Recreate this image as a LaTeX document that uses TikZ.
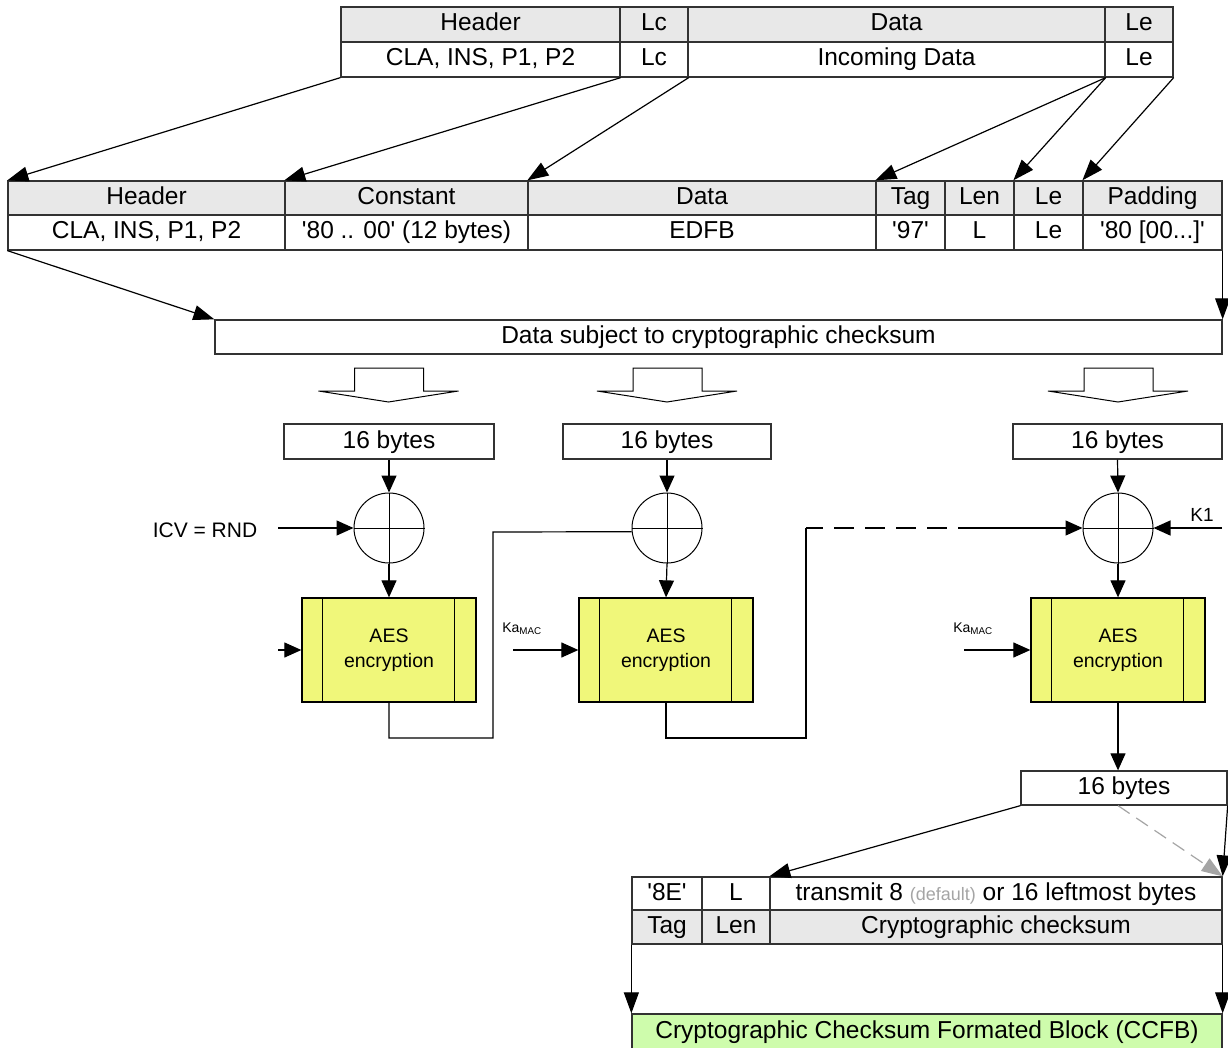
\documentclass[tikz,border=0pt]{standalone}
\usepackage{fontspec}
\setmainfont{Liberation Sans}
\newfontfamily\arial{Liberation Sans}
\usetikzlibrary{arrows.meta}
\definecolor{hdr}{RGB}{232,232,232}
\definecolor{aesy}{RGB}{240,247,122}
\definecolor{ccfbg}{RGB}{206,252,172}
\definecolor{bord}{RGB}{50,50,50}
\definecolor{lgray}{RGB}{165,165,165}
\newcommand\fbig{\arial\fontsize{24.5}{28}\selectfont}
\newcommand\mkcell[7]{\node[cellbox,fill=#6,minimum width={(#4-#2)*1pt},minimum height={(#5-#3)*1pt}] (#1) at ({(#2+#4)/2},{(#3+#5)/2}) {#7};}
\newcommand\blockarr[1]{\draw[line width=1pt,fill=white] ({#1-34},368) -- ({#1+35},368) -- ({#1+35},391) -- ({#1+70},391) -- (#1,402) -- ({#1-70},391) -- ({#1-34},391) -- cycle;}
\begin{document}
\begin{tikzpicture}[x=1pt,y=-1pt,
 cellbox/.style={draw=bord,line width=1.3pt,inner sep=0pt,font=\fbig,text height=13pt,text depth=0pt},
 conn/.style={line width=1.2pt,-{Triangle[length=21pt,width=15pt]}},
 sconn/.style={line width=1.2pt,-{Triangle[length=17pt,width=15pt]}},
 xorc/.style={circle,draw,line width=1pt,minimum size=70pt,inner sep=0pt},
 aesbox/.style={draw,line width=1.3pt,fill=aesy,minimum width=174pt,minimum height=104pt,align=center,font=\arial\fontsize{19.5}{25}\selectfont,inner sep=0pt},
 lbl/.style={inner sep=0pt,font=\arial}]
\useasboundingbox (0,0) rectangle (1228,1048);
\fill[white] (0,0) rectangle (1228,1048);

% top table
\mkcell{th1}{341}{7}{620}{42}{hdr}{Header}
\mkcell{th2}{620}{7}{688}{42}{hdr}{Lc}
\mkcell{th3}{688}{7}{1105}{42}{hdr}{Data}
\mkcell{th4}{1105}{7}{1173}{42}{hdr}{Le}
\mkcell{tr1}{341}{42}{620}{77}{white}{CLA, INS, P1, P2}
\mkcell{tr2}{620}{42}{688}{77}{white}{Lc}
\mkcell{tr3}{688}{42}{1105}{77}{white}{Incoming Data}
\mkcell{tr4}{1105}{42}{1173}{77}{white}{Le}

% second table
\mkcell{sh1}{8}{181}{285}{215}{hdr}{Header}
\mkcell{sh2}{285}{181}{528}{215}{hdr}{Constant}
\mkcell{sh3}{528}{181}{876}{215}{hdr}{Data}
\mkcell{sh4}{876}{181}{945}{215}{hdr}{Tag}
\mkcell{sh5}{945}{181}{1014}{215}{hdr}{Len}
\mkcell{sh6}{1014}{181}{1083}{215}{hdr}{Le}
\mkcell{sh7}{1083}{181}{1222}{215}{hdr}{Padding}
\mkcell{sr1}{8}{215}{285}{250}{white}{CLA, INS, P1, P2}
\mkcell{sr2}{285}{215}{528}{250}{white}{'80 .. 00' (12 bytes)}
\mkcell{sr3}{528}{215}{876}{250}{white}{EDFB}
\mkcell{sr4}{876}{215}{945}{250}{white}{'97'}
\mkcell{sr5}{945}{215}{1014}{250}{white}{L}
\mkcell{sr6}{1014}{215}{1083}{250}{white}{Le}
\mkcell{sr7}{1083}{215}{1222}{250}{white}{'80 [00...]'}

\draw[conn] (tr1.south west) -- (sh1.north west);
\draw[conn] (tr1.south east) -- (sh2.north west);
\draw[conn] (tr2.south east) -- (sh3.north west);
\draw[conn] (tr3.south east) -- (sh4.north west);
\draw[conn] (tr3.south east) -- (sh6.north west);
\draw[conn] (tr4.south east) -- (sh7.north west);

% data subject box
\mkcell{ds}{215}{320}{1222}{354}{white}{Data subject to cryptographic checksum}
\draw[conn] (sr1.south west) -- (ds.north west);
\draw[conn] (sr7.south east) -- (ds.north east);

% block arrows
\blockarr{388.5}
\blockarr{667}
\blockarr{1118}

% 16 bytes boxes
\mkcell{b1}{284}{424}{494}{459}{white}{16 bytes}
\mkcell{b2}{563}{424}{771}{459}{white}{16 bytes}
\mkcell{b3}{1013}{424}{1222}{459}{white}{16 bytes}

% xor circles
\node[xorc] (xor1) at (389,528) {};
\node[xorc] (xor2) at (667,528) {};
\node[xorc] (xor3) at (1118,528) {};
\foreach \n in {xor1,xor2,xor3}{
  \draw[line width=1pt] (\n.north) -- (\n.south) (\n.west) -- (\n.east);
}

% AES boxes
\node[aesbox] (a1) at (389,650) {AES\\encryption};
\node[aesbox] (a2) at (666,650) {AES\\encryption};
\node[aesbox] (a3) at (1118,650) {AES\\encryption};
\foreach \n in {a1,a2,a3}{
  \draw[line width=1.3pt] ([xshift=21pt]\n.north west) -- ([xshift=21pt]\n.south west);
  \draw[line width=1.3pt] ([xshift=-22pt]\n.north east) -- ([xshift=-22pt]\n.south east);
}

% vertical flows
\draw[sconn] (b1.south) -- (xor1.north);
\draw[sconn] (xor1.south) -- (a1.north);
\draw[sconn] (b2.south) -- (xor2.north);
\draw[sconn] (xor2.south) -- (a2.north);
\draw[sconn] (b3.south) -- (xor3.north);
\draw[sconn] (xor3.south) -- (a3.north);

% labels and side inputs
\node[lbl,font=\arial\fontsize{21}{24}\selectfont] (icv) at (205,530) {ICV = RND};
\coordinate (icvs) at (278,528);
\draw[sconn] (icvs) -- (xor1.west);
\coordinate (k1s) at (278,650);
\draw[sconn] (k1s) -- (a1.west);

\node[lbl,font=\arial\fontsize{14}{16}\selectfont] (ka2) at (522,629) {Ka\textsubscript{MAC}};
\coordinate (k2s) at (513,650);
\draw[sconn] (k2s) -- (a2.west);
\node[lbl,font=\arial\fontsize{14}{16}\selectfont] (ka3) at (973,629) {Ka\textsubscript{MAC}};
\coordinate (k3s) at (964,650);
\draw[sconn] (k3s) -- (a3.west);

\node[lbl,font=\arial\fontsize{19}{21}\selectfont] (k1) at (1202,515) {K1};
\coordinate (k1r) at (1222,528);
\draw[sconn] (k1r) -- (xor3.east);

% feedback lines
\coordinate (fb1a) at (389,738);
\coordinate (fb1b) at (493,738);
\coordinate (fb1c) at (493,532);
\draw[line width=1.2pt] (a1.south) -- (fb1a) -- (fb1b) -- (fb1c) -- (xor2.186);
\coordinate (fb2a) at (666,738);
\coordinate (fb2b) at (806,738);
\coordinate (fb2c) at (806,528);
\coordinate (fb2d) at (975,528);
\draw[line width=1.2pt] (a2.south) -- (fb2a) -- (fb2b) -- (fb2c);
\draw[line width=1.2pt,dash pattern=on 20pt off 11pt,dash phase=-28pt] (fb2c) -- (fb2d);
\draw[sconn] (fb2d) -- (xor3.west);

% output 16 bytes
\mkcell{b4}{1021}{771}{1227}{805}{white}{16 bytes}
\draw[sconn] (a3.south) -- (a3.south |- b4.north);

% bottom table
\mkcell{c1}{632}{877}{702}{910}{white}{'8E'}
\mkcell{c2}{702}{877}{770}{910}{white}{L}
\mkcell{c3}{770}{877}{1222}{910}{white}{transmit 8 {\color{lgray}\fontsize{18}{20}\selectfont(default)} or 16 leftmost bytes}
\mkcell{d1}{632}{910}{702}{944}{hdr}{Tag}
\mkcell{d2}{702}{910}{770}{944}{hdr}{Len}
\mkcell{d3}{770}{910}{1222}{944}{hdr}{Cryptographic checksum}

\draw[conn] (b4.south west) -- (c3.north west);
\draw[line width=1.2pt,draw=lgray,dash pattern=on 14pt off 8pt,-{Triangle[length=21pt,width=15pt]}] (b4.south -| a3.south) -- (c3.north east);
\draw[conn] (b4.south east) -- (c3.north east);

% CCFB
\mkcell{ccfb}{632}{1014}{1222}{1049}{ccfbg}{Cryptographic Checksum Formated Block (CCFB)}
\draw[conn] (d1.south west) -- (ccfb.north west);
\draw[conn] (d3.south east) -- (ccfb.north east);
\end{tikzpicture}
\end{document}
